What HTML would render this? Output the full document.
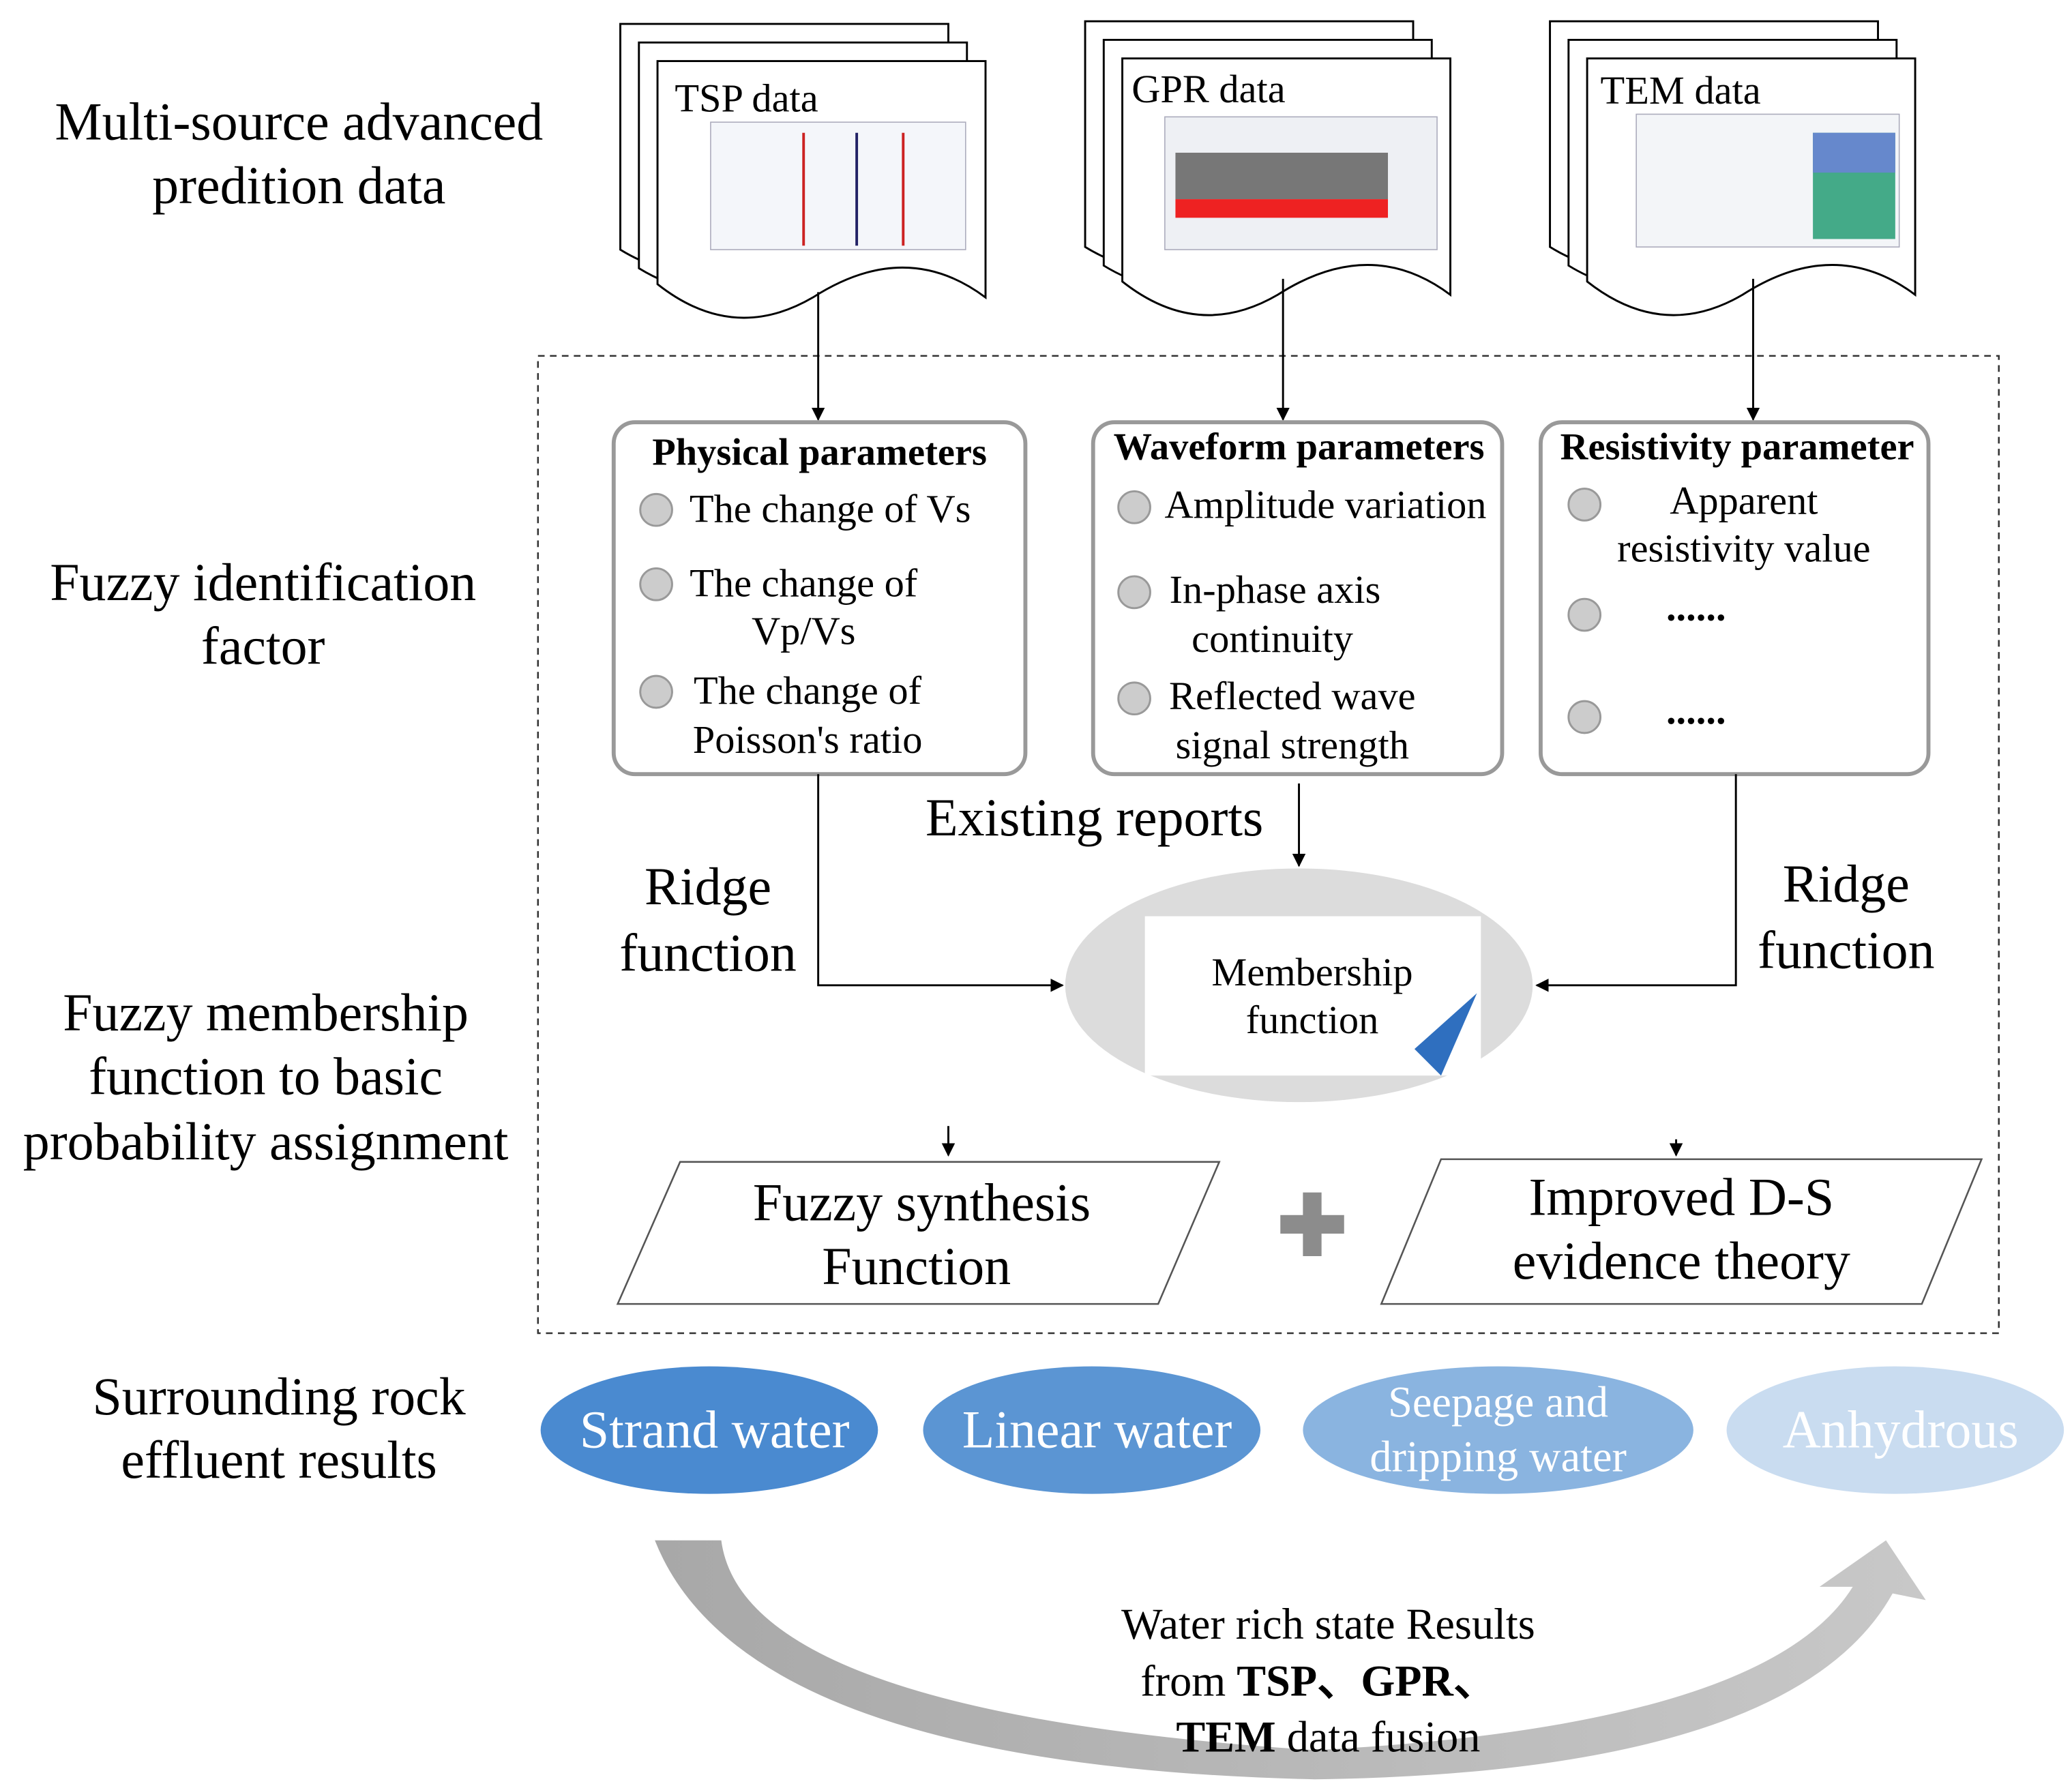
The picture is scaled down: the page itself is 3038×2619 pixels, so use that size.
<!DOCTYPE html>
<html><head><meta charset="utf-8"><style>html,body{margin:0;padding:0;background:#fff}svg{display:block}</style></head><body>
<svg width="3038" height="2619" viewBox="0 0 1560 1345" xmlns="http://www.w3.org/2000/svg" font-family="Liberation Serif, serif">
<defs>
<marker id="ah" markerWidth="10" markerHeight="10" refX="9" refY="5" orient="auto" markerUnits="userSpaceOnUse"><path d="M0,0 L10,5 L0,10 z" fill="#000"/></marker>
<linearGradient id="cg" x1="0" x2="1"><stop offset="0" stop-color="#a8a8a8"/><stop offset="1" stop-color="#c8c8c8"/></linearGradient>
</defs>
<rect width="1560" height="1345" fill="#fff"/>
<g font-size="40" text-anchor="middle" fill="#000">
<text x="225" y="105">Multi-source advanced</text><text x="225" y="153">predition data</text>
<text x="198" y="452">Fuzzy identification</text><text x="198" y="500">factor</text>
<text x="200" y="776">Fuzzy membership</text><text x="200" y="824">function  to basic</text><text x="200" y="873">probability assignment</text>
<text x="210" y="1065">Surrounding rock</text><text x="210" y="1113">effluent results</text>
</g>
<g fill="#fff" stroke="#000" stroke-width="1.5">
<g id="d1">
<path d="M467,18 h247 v170 q-60,-40 -130,0 q-60,35 -117,0 z"/>
<path d="M481,32 h247 v170 q-60,-40 -130,0 q-60,35 -117,0 z"/>
<path d="M495,46 h247 v178 q-60,-45 -130,0 q-60,35 -117,-10 z"/>
</g>
<use href="#d1" x="350" y="-2"/>
<use href="#d1" x="700" y="-2"/>
</g>
<g font-size="30" fill="#000">
<text x="508" y="84">TSP data</text><text x="852" y="77">GPR data</text><text x="1205" y="78">TEM data</text>
</g>
<rect x="535" y="92" width="192" height="96" fill="#f4f6fa" stroke="#aab" stroke-width="0.8"/>
<line x1="605" y1="100" x2="605" y2="185" stroke="#c22" stroke-width="2"/><line x1="645" y1="100" x2="645" y2="185" stroke="#226" stroke-width="2"/><line x1="680" y1="100" x2="680" y2="185" stroke="#c22" stroke-width="2"/>
<rect x="877" y="88" width="205" height="100" fill="#eef0f4" stroke="#aab" stroke-width="0.8"/>
<rect x="885" y="115" width="160" height="35" fill="#777"/><rect x="885" y="150" width="160" height="14" fill="#e22"/>
<rect x="1232" y="86" width="198" height="100" fill="#f3f5f8" stroke="#aab" stroke-width="0.8"/>
<rect x="1365" y="100" width="62" height="80" fill="#4a8"/><rect x="1365" y="100" width="62" height="30" fill="#68c"/>
<rect x="405" y="268" width="1100" height="736" fill="none" stroke="#333" stroke-width="1.3" stroke-dasharray="5,4"/>
<g stroke="#000" stroke-width="1.5" fill="none">
<line x1="616" y1="220" x2="616" y2="316" marker-end="url(#ah)"/>
<line x1="966" y1="210" x2="966" y2="316" marker-end="url(#ah)"/>
<line x1="1320" y1="210" x2="1320" y2="316" marker-end="url(#ah)"/>
</g>
<g fill="#fff" stroke="#999" stroke-width="3">
<rect x="462" y="318" width="310" height="265" rx="16"/>
<rect x="823" y="318" width="308" height="265" rx="16"/>
<rect x="1160" y="318" width="292" height="265" rx="16"/>
</g>
<g font-size="29" font-weight="bold" text-anchor="middle">
<text x="617" y="350">Physical parameters</text><text x="978" y="346">Waveform parameters</text><text x="1308" y="346">Resistivity parameter</text>
</g>
<g fill="#ccc" stroke="#999" stroke-width="1.5">
<circle cx="494" cy="384" r="12"/><circle cx="494" cy="440" r="12"/><circle cx="494" cy="521" r="12"/>
<circle cx="854" cy="382" r="12"/><circle cx="854" cy="446" r="12"/><circle cx="854" cy="526" r="12"/>
<circle cx="1193" cy="380" r="12"/><circle cx="1193" cy="463" r="12"/><circle cx="1193" cy="540" r="12"/>
</g>
<g font-size="30" text-anchor="middle">
<text x="625" y="393">The change of Vs</text>
<text x="605" y="449">The change of</text><text x="605" y="485">Vp/Vs</text>
<text x="608" y="530">The change of</text><text x="608" y="567">Poisson's ratio</text>
<text x="998" y="390">Amplitude variation</text>
<text x="960" y="454">In-phase axis</text><text x="958" y="491">continuity</text>
<text x="973" y="534">Reflected wave</text><text x="973" y="571">signal strength</text>
<text x="1313" y="387">Apparent</text><text x="1313" y="423">resistivity value</text>
<text x="1277" y="467" font-weight="bold">......</text><text x="1277" y="545" font-weight="bold">......</text>
</g>
<g stroke="#000" stroke-width="1.5" fill="none">
<polyline points="616,583 616,742 800,742" marker-end="url(#ah)"/>
<polyline points="1307,583 1307,742 1157,742" marker-end="url(#ah)"/>
<line x1="978" y1="590" x2="978" y2="652" marker-end="url(#ah)"/>
<line x1="714" y1="848" x2="714" y2="870" marker-end="url(#ah)"/>
<line x1="1262" y1="858" x2="1262" y2="870" marker-end="url(#ah)"/>
</g>
<g font-size="40" text-anchor="middle">
<text x="824" y="629">Existing reports</text>
<text x="533" y="681">Ridge</text><text x="533" y="731">function</text>
<text x="1390" y="679">Ridge</text><text x="1390" y="729">function</text>
</g>
<ellipse cx="978" cy="742" rx="176" ry="88" fill="#dcdcdc"/>
<rect x="862" y="690" width="253" height="120" fill="#fff"/>
<path d="M1112,748 L1085,810 L1065,790 z" fill="#2f6fbf"/>
<g font-size="30" text-anchor="middle"><text x="988" y="742">Membership</text><text x="988" y="778">function</text></g>
<g fill="#fff" stroke="#555" stroke-width="1.3">
<path d="M512,875 L918,875 L872,982 L465,982 z"/>
<path d="M1085,873 L1492,873 L1447,982 L1040,982 z"/>
</g>
<g font-size="40" text-anchor="middle">
<text x="694" y="919">Fuzzy synthesis</text><text x="690" y="967">Function</text>
<text x="1266" y="915">Improved D-S</text><text x="1266" y="963">evidence theory</text>
</g>
<path d="M981,898 h14 v17 h17 v14 h-17 v17 h-14 v-17 h-17 v-14 h17 z" fill="#8c8c8c"/>
<ellipse cx="534" cy="1077" rx="127" ry="48" fill="#4a8ad0"/>
<ellipse cx="822" cy="1077" rx="127" ry="48" fill="#5b95d3"/>
<ellipse cx="1128" cy="1077" rx="147" ry="48" fill="#8ab4e0"/>
<ellipse cx="1427" cy="1077" rx="127" ry="48" fill="#c9dcf0"/>
<g font-size="40" text-anchor="middle" fill="#fff">
<text x="538" y="1090">Strand water</text><text x="826" y="1090">Linear water</text>
<text x="1128" y="1067" font-size="33">Seepage and</text><text x="1128" y="1108" font-size="33">dripping water</text>
<text x="1431" y="1090">Anhydrous</text>
</g>
<path d="M493,1160 L543,1160 Q560,1290 990,1318 Q1330,1300 1395,1195 L1370,1195 L1420,1160 L1450,1205 L1425,1200 Q1350,1335 990,1340 Q560,1330 493,1160 z" fill="url(#cg)"/>
<g font-size="33" text-anchor="middle">
<text x="1000" y="1234">Water rich state Results</text>
<text x="993" y="1277">from <tspan font-weight="bold">TSP、GPR、</tspan></text>
<text x="1000" y="1319"><tspan font-weight="bold">TEM</tspan> data fusion</text>
</g>
</svg>
</body></html>
